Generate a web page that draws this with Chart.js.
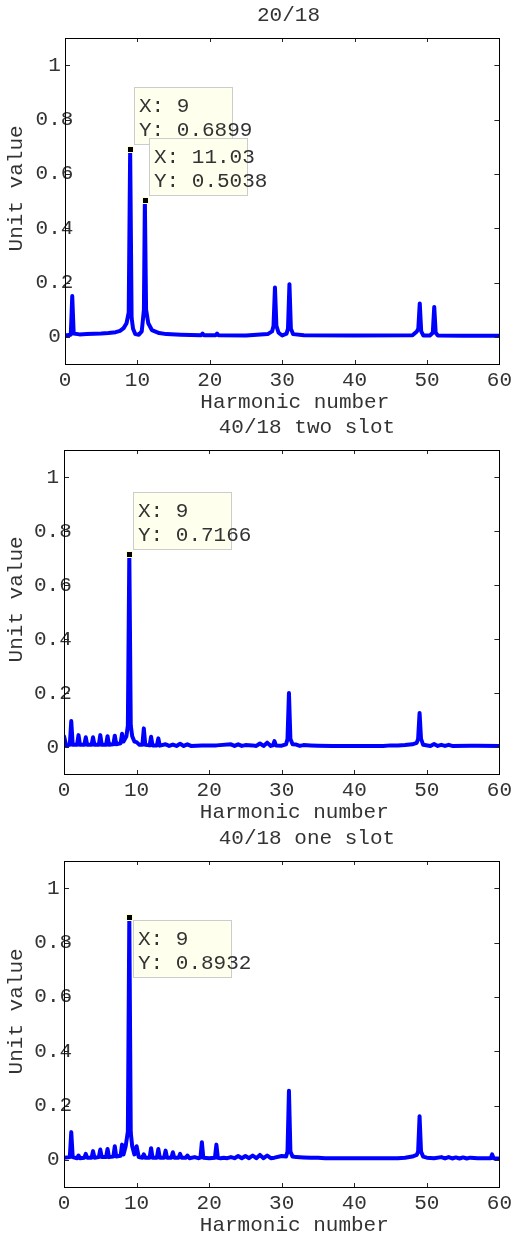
<!DOCTYPE html>
<html>
<head>
<meta charset="utf-8">
<script src="https://cdn.jsdelivr.net/npm/chart.js@4/dist/chart.umd.min.js"></script>
<style>
  html, body { margin: 0; padding: 0; background: #fff; }
  body { width: 516px; height: 1233px; position: relative; overflow: hidden; }
  .panel { position: absolute; left: 0; width: 516px; }
</style>
</head>
<body>
<div class="panel" style="top:0;height:410px"><canvas id="c1"></canvas></div>
<div class="panel" style="top:410px;height:410px"><canvas id="c2"></canvas></div>
<div class="panel" style="top:820px;height:413px"><canvas id="c3"></canvas></div>
<script>
(function () {
  "use strict";

  const X_TICKS = [0, 10, 20, 30, 40, 50, 60];
  const Y_TICKS = [0, 0.2, 0.4, 0.6, 0.8, 1];

  // 20/18
  const HARM_20_18 = [0, 0.8, 1, 1.2, 2, 3, 4, 5, 6, 7,
    7.6, 8.1, 8.5, 8.8, 9, 9.2, 9.4, 9.7, 10.2, 10.6,
    10.9, 11.03, 11.2, 11.5, 12, 13, 14, 16, 18.8, 19,
    19.2, 20.8, 21, 21.2, 25, 28, 28.6, 28.8, 29, 29.2,
    29.5, 30, 30.6, 30.8, 31, 31.2, 31.5, 33, 40, 48,
    48.6, 48.8, 49, 49.2, 49.5, 50.4, 50.8, 51, 51.2, 51.5,
    55, 60];
  const AMP_20_18 = [0.005, 0.008, 0.15, 0.012, 0.009, 0.01, 0.011, 0.012, 0.014, 0.017,
    0.022, 0.032, 0.05, 0.09, 0.6899, 0.07, 0.03, 0.01, 0.008, 0.02,
    0.1, 0.5038, 0.1, 0.05, 0.025, 0.014, 0.01, 0.008, 0.006, 0.012,
    0.006, 0.006, 0.012, 0.006, 0.005, 0.01, 0.02, 0.04, 0.182, 0.04,
    0.015, 0.005, 0.012, 0.03, 0.194, 0.03, 0.01, 0.006, 0.005, 0.006,
    0.02, 0.03, 0.123, 0.02, 0.005, 0.005, 0.015, 0.11, 0.015, 0.005,
    0.004, 0.004];

  // 40/18 two slot
  const HARM_TWO = [0, 0.3, 0.8, 1, 1.2, 1.8, 2, 2.2, 2.8, 3,
    3.2, 3.8, 4, 4.2, 4.8, 5, 5.2, 5.8, 6, 6.2,
    6.8, 7, 7.2, 7.8, 8, 8.2, 8.6, 8.8, 9, 9.2,
    9.4, 9.7, 10, 10.4, 10.8, 11, 11.2, 11.8, 12, 12.2,
    12.8, 13, 13.2, 14, 14.5, 15, 15.5, 16, 16.5, 17,
    17.5, 19, 21, 23, 23.5, 24, 24.5, 25, 26, 26.5,
    27, 27.5, 28, 28.5, 28.8, 29, 29.2, 30, 30.6, 30.8,
    31, 31.2, 31.5, 32, 32.5, 33, 34, 35, 37, 44,
    45, 46, 47, 48, 48.6, 48.8, 49, 49.2, 49.5, 50.5,
    51, 51.5, 52, 52.5, 53, 53.5, 56, 57, 60];
  const AMP_TWO = [0.04, 0.006, 0.008, 0.096, 0.008, 0.008, 0.044, 0.008, 0.008, 0.036,
    0.008, 0.008, 0.036, 0.008, 0.008, 0.044, 0.008, 0.008, 0.04, 0.008,
    0.01, 0.042, 0.01, 0.014, 0.049, 0.02, 0.04, 0.08, 0.7166, 0.08,
    0.04, 0.02, 0.018, 0.008, 0.008, 0.069, 0.008, 0.006, 0.038, 0.006,
    0.006, 0.032, 0.005, 0.01, 0.004, 0.009, 0.004, 0.012, 0.004, 0.01,
    0.004, 0.006, 0.006, 0.01, 0.004, 0.01, 0.004, 0.007, 0.006, 0.004,
    0.013, 0.004, 0.016, 0.004, 0.006, 0.022, 0.006, 0.005, 0.01, 0.03,
    0.2, 0.03, 0.01, 0.009, 0.004, 0.007, 0.006, 0.005, 0.004, 0.004,
    0.006, 0.006, 0.007, 0.01, 0.015, 0.03, 0.126, 0.03, 0.008, 0.004,
    0.011, 0.004, 0.008, 0.004, 0.008, 0.004, 0.005, 0.005, 0.004];

  // 40/18 one slot
  const HARM_ONE = [0, 0.8, 1, 1.2, 1.8, 2, 2.2, 2.8, 3, 3.2,
    3.8, 4, 4.2, 4.8, 5, 5.2, 5.8, 6, 6.2, 6.8,
    7, 7.2, 7.8, 8, 8.2, 8.5, 8.8, 9, 9.2, 9.4,
    9.7, 10, 10.3, 10.8, 11, 11.2, 11.8, 12, 12.2, 12.8,
    13, 13.2, 13.8, 14, 14.2, 14.8, 15, 15.2, 15.8, 16,
    16.2, 16.8, 17, 17.3, 18, 18.5, 18.8, 19, 19.2, 20,
    20.8, 21, 21.2, 21.6, 22, 22.5, 23, 23.5, 24, 24.5,
    25, 25.5, 26, 26.5, 27, 27.5, 28, 28.5, 29, 30,
    30.6, 30.8, 31, 31.2, 31.5, 32, 33, 34, 35, 36,
    46, 47, 48, 48.6, 48.8, 49, 49.2, 49.5, 50, 51,
    52, 52.5, 53, 53.5, 54, 54.5, 55, 55.5, 56, 57,
    58, 58.8, 59, 59.2, 60];
  const AMP_ONE = [0.008, 0.01, 0.102, 0.01, 0.006, 0.016, 0.006, 0.008, 0.022, 0.008,
    0.008, 0.032, 0.008, 0.01, 0.038, 0.01, 0.01, 0.04, 0.01, 0.012,
    0.05, 0.012, 0.015, 0.056, 0.02, 0.05, 0.104, 0.8932, 0.1, 0.05,
    0.02, 0.05, 0.01, 0.008, 0.02, 0.008, 0.008, 0.043, 0.008, 0.008,
    0.04, 0.008, 0.008, 0.034, 0.008, 0.008, 0.028, 0.008, 0.008, 0.022,
    0.008, 0.008, 0.016, 0.006, 0.01, 0.006, 0.008, 0.065, 0.008, 0.006,
    0.008, 0.056, 0.008, 0.006, 0.008, 0.006, 0.01, 0.006, 0.014, 0.006,
    0.014, 0.006, 0.016, 0.006, 0.018, 0.006, 0.016, 0.006, 0.008, 0.014,
    0.012, 0.03, 0.254, 0.03, 0.012, 0.01, 0.009, 0.008, 0.008, 0.006,
    0.006, 0.008, 0.012, 0.018, 0.03, 0.16, 0.03, 0.012, 0.008, 0.006,
    0.01, 0.005, 0.01, 0.005, 0.009, 0.005, 0.009, 0.005, 0.008, 0.006,
    0.006, 0.006, 0.02, 0.006, 0.005];

  // data tips (MATLAB style)
  const TIP_X_20_18 = [9, 11.03];
  const TIP_Y_20_18 = [0.6899, 0.5038];
  const TIP_X_TWO = [9];
  const TIP_Y_TWO = [0.7166];
  const TIP_X_ONE = [9];
  const TIP_Y_ONE = [0.8932];

  const FONT_FAMILY = '"Liberation Mono", "DejaVu Sans Mono", monospace';
  const TEXT = "#333333";
  const FONT = { family: FONT_FAMILY, size: 21, lineHeight: "24px" };

  // inward ticks on all four sides + black box, like MATLAB "box on"
  const axesBox = {
    id: "axesBox",
    afterDatasetsDraw(chart) {
      const { ctx, chartArea: a, scales: { x, y } } = chart;
      ctx.save();
      ctx.strokeStyle = "#262626";
      ctx.lineWidth = 1;
      ctx.beginPath();
      X_TICKS.forEach((v) => {
        const p = Math.round(x.getPixelForValue(v)) + 0.5;
        ctx.moveTo(p, a.bottom); ctx.lineTo(p, a.bottom - 4);
        ctx.moveTo(p, a.top); ctx.lineTo(p, a.top + 4);
      });
      Y_TICKS.forEach((v) => {
        const p = Math.round(y.getPixelForValue(v)) + 0.5;
        ctx.moveTo(a.left, p); ctx.lineTo(a.left + 5, p);
        ctx.moveTo(a.right, p); ctx.lineTo(a.right - 5, p);
      });
      ctx.stroke();
      ctx.strokeStyle = "#000";
      ctx.strokeRect(Math.round(a.left) + 0.5, Math.round(a.top) + 0.5,
        Math.round(a.right - a.left), Math.round(a.bottom - a.top));
      ctx.restore();
    },
  };

  const datatips = {
    id: "datatips",
    afterDraw(chart, args, opts) {
      const { ctx, scales: { x, y } } = chart;
      ctx.save();
      opts.xs.forEach((tx, i) => {
        const ty = opts.ys[i];
        const px = x.getPixelForValue(tx);
        const py = y.getPixelForValue(ty);
        const bw = 98, bh = 57;
        const bx = Math.round(px + 4);
        const by = Math.round(opts.below ? py + 3 : py - 5 - bh);
        ctx.fillStyle = "#ffffee";
        ctx.fillRect(bx, by, bw, bh);
        ctx.strokeStyle = "#cccccc";
        ctx.lineWidth = 1;
        ctx.strokeRect(bx + 0.5, by + 0.5, bw, bh);
        ctx.fillStyle = TEXT;
        ctx.font = "21px " + FONT_FAMILY;
        ctx.textBaseline = "alphabetic";
        ctx.textAlign = "left";
        ctx.fillText("X: " + tx, bx + 5, by + 25);
        ctx.fillText("Y: " + ty.toFixed(4), bx + 5, by + 49);
        ctx.fillStyle = "#ffffcc";
        ctx.fillRect(Math.round(px) - 3, Math.round(py) - 3, 7, 7);
        ctx.fillStyle = "#000";
        ctx.fillRect(Math.round(px) - 2, Math.round(py) - 2, 5, 5);
      });
      ctx.restore();
    },
  };

  function makePanel(canvasId, g, title, xs, ys, tips) {
    const ctx = document.getElementById(canvasId).getContext("2d");
    return new Chart(ctx, {
      type: "line",
      data: {
        datasets: [{
          data: xs.map((x, i) => ({ x: x, y: ys[i] })),
          borderColor: "#0000ff", borderWidth: 4,
          borderJoinStyle: "round", borderCapStyle: "round",
          pointRadius: 0, tension: 0, fill: false,
        }],
      },
      options: {
        responsive: true, maintainAspectRatio: false, animation: false, events: [],
        layout: { padding: { left: 0, right: 516 - g.r, top: 0, bottom: 0 } },
        scales: {
          x: {
            type: "linear", min: 0, max: 60,
            afterBuildTicks: (s) => { s.ticks = X_TICKS.map((v) => ({ value: v })); },
            afterFit: (s) => { s.height = g.h - g.b; },
            grid: { display: false, drawTicks: false }, border: { display: false },
            ticks: { color: TEXT, font: FONT, padding: 4, maxRotation: 0, autoSkip: false,
              callback: (v) => String(v) },
            title: { display: true, text: "  Harmonic number", color: TEXT, font: FONT,
              padding: { top: 0, bottom: g.xtb } },
          },
          y: {
            type: "linear", min: -0.1, max: 1.1,
            afterBuildTicks: (s) => { s.ticks = Y_TICKS.map((v) => ({ value: v })); },
            afterFit: (s) => { s.width = g.l; },
            grid: { display: false, drawTicks: false }, border: { display: false },
            // mirror keeps the labels unclipped so they can run over the axis line
            ticks: { color: TEXT, font: FONT, mirror: true, padding: g.yp, crossAlign: "center",
              callback: (v) => String(v) },
            title: { display: true, text: "  Unit value", color: TEXT, font: FONT,
              padding: { top: g.ytp, bottom: 0 } },
          },
        },
        plugins: {
          legend: { display: false },
          tooltip: { enabled: false },
          title: {
            display: true, text: title, color: TEXT, font: { family: FONT_FAMILY, size: 21, weight: "normal", lineHeight: "24px" },
            fullSize: false, padding: { top: g.tc - 12, bottom: g.t - (g.tc - 12) - 24 },
          },
          datatips: { xs: tips.xs, ys: tips.ys, below: tips.below },
        },
      },
      plugins: [axesBox, datatips],
    });
  }

  makePanel("c1", { h: 410, l: 65, r: 501, t: 38, b: 364, tc: 15, xtb: -4.7, ytp: 4.7, yp: -29.4 },
    " 20/18", HARM_20_18, AMP_20_18, { xs: TIP_X_20_18, ys: TIP_Y_20_18, below: false });
  makePanel("c2", { h: 410, l: 64, r: 502, t: 40, b: 364, tc: 17, xtb: -4.3, ytp: 4, yp: -30 },
    "    40/18 two slot", HARM_TWO, AMP_TWO, { xs: TIP_X_TWO, ys: TIP_Y_TWO, below: false });
  makePanel("c3", { h: 413, l: 64, r: 502, t: 41, b: 367, tc: 18, xtb: -4, ytp: 4, yp: -29.7 },
    "    40/18 one slot", HARM_ONE, AMP_ONE, { xs: TIP_X_ONE, ys: TIP_Y_ONE, below: true });
})();
</script>
</body>
</html>
